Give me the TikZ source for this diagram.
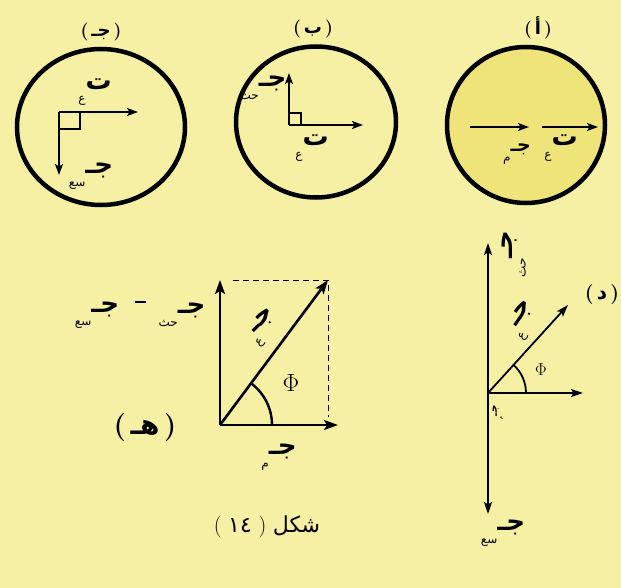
\documentclass[tikz,border=0pt]{standalone}
\usepackage{fontspec}
\usepackage{tikz}
\usetikzlibrary{arrows.meta, positioning, calc, shapes.geometric}
\TeXXeTstate=1
\newfontfamily\arabicfont[Script=Arabic]{DejaVu Sans}
\definecolor{paper}{HTML}{F6F0A5}
\definecolor{glow}{HTML}{EEE47A}
%% vector symbol: bold letter with a small subscript below left
\newcommand{\vlab}[2]{\beginR{\bfseries #1}\raisebox{-0.9ex}{\fontsize{12}{13}\selectfont\mdseries #2}\endR}

\begin{document}
\begin{tikzpicture}[x=1pt, y=-1pt,
    %% rings
    ring/.style = {draw=black, line width=4.5pt, ellipse, inner sep=0pt},
    %% arrows
    vec/.style    = {-{Stealth[length=11pt, width=8pt, inset=2.5pt]}, line width=1.6pt},
    bigvec/.style = {-{Stealth[length=14pt, width=10pt, inset=3pt]}, line width=2.6pt},
    midvec/.style = {-{Stealth[length=12pt, width=8pt, inset=2.5pt]}, line width=1.8pt},
    sq/.style     = {line width=1.3pt},
    %% texts
    lab/.style = {font=\arabicfont\fontsize{26}{28}\selectfont, inner sep=1pt},
    tag/.style = {font=\fontsize{18}{20}\selectfont\bfseries, inner sep=1pt},
  ]
  \fill[paper] (0,0) rectangle (621,588);
  \useasboundingbox (0,0) rectangle (621,588);

  %% ── ring (c) ────────────────────────────────────────────────
  \node[ring, minimum width=168pt, minimum height=156pt] (cC) at (101,127) {};
  \node[tag, above=5pt of cC.north] (tagC) {(\,{\arabicfont جـ}\,)};
  \coordinate (oC) at (59,112);
  \coordinate (xC) at (138,112);
  \coordinate (gC) at (59,175);
  \draw[vec] (oC) -- (xC); \draw[vec] (oC) -- (gC);
  \draw[sq] ($(oC)+(21,0)$) |- ($(oC)+(0,17)$);
  \node[lab] (lxC) at (95,92) {\vlab{ت}{ع}};
  \node[lab] (lgC) at (91,176) {\vlab{جـ}{سع}};

  %% ── ring (b) ────────────────────────────────────────────────
  \node[ring, minimum width=160pt, minimum height=151pt] (cB) at (316,122) {};
  \node[tag, above=5pt of cB.north, xshift=-3pt] (tagB) {(\,{\arabicfont ب}\,)};
  \coordinate (oB) at (289,125);
  \coordinate (yB) at (289,73);
  \coordinate (xB) at (363,125);
  \draw[vec] (oB) -- (yB); \draw[vec] (oB) -- (xB);
  \draw[sq] ($(oB)+(12,0)$) |- ($(oB)+(0,-12)$);
  \node[lab] (lyB) at (263,88) {\vlab{جـ}{حث}};
  \node[lab] (lxB) at (312,148) {\vlab{ت}{ع}};

  %% ── ring (a) ────────────────────────────────────────────────
  \node[ring, fill=glow, minimum width=158pt, minimum height=156pt] (cA) at (526,125) {};
  \node[tag, above=5pt of cA.north, xshift=12pt] (tagA) {(\,{\arabicfont أ}\,)};
  \coordinate (oA1) at (470,127);
  \coordinate (tA1) at (529,127);
  \coordinate (oA2) at (542,127);
  \coordinate (tA2) at (598,127);
  \draw[vec] (oA1) -- (tA1); \draw[vec] (oA2) -- (tA2);
  \node[lab, font=\arabicfont\fontsize{19}{21}\selectfont] (lA1) at (517,154) {\vlab{جـ}{م}};
  \node[lab] (lA2) at (561,148) {\vlab{ت}{ع}};

  %% ── diagram (e) ─────────────────────────────────────────────
  \coordinate (oE) at (220,425);
  \coordinate (yE) at (220,280);
  \coordinate (xE) at (338,425);
  \coordinate (rE) at (328,280);
  \coordinate (dE) at (328,417);
  \draw[dashed, line width=1pt, dash pattern=on 6pt off 4pt] ($(yE)+(13,0)$) -- (rE) -- (dE);
  \draw[bigvec] (oE) -- (yE);
  \draw[bigvec] (oE) -- (xE);
  \draw[bigvec] (oE) -- (rE);
  \draw[line width=2.4pt] ($(oE)+(52,0)$) arc[start angle=0, end angle=-53, radius=52];
  \node (phiE) at (291,383) {\fontsize{24}{26}\selectfont$\Phi$};
  \node[lab, rotate=45] (lrE) at (264,327) {\vlab{جـ}{ع}};
  \node[lab] (lxE) at (279,457) {\vlab{جـ}{م}};
  \node[lab] (lyE) at (182,315) {\vlab{جـ}{حث}};
  \node[inner sep=0pt] (minE) at (140,302) {\rule{11pt}{1.6pt}};
  \node[lab] (lsE) at (97,315) {\vlab{جـ}{سع}};
  \node[tag, font=\fontsize{28}{30}\selectfont\bfseries] (tagE) at (145,428) {(\,{\arabicfont هـ}\,)};

  %% ── diagram (d) ─────────────────────────────────────────────
  \coordinate (oD) at (488,393);
  \coordinate (yD) at (488,243);
  \coordinate (sD) at (488,514);
  \coordinate (xD) at (583,393);
  \coordinate (rD) at (568,305);
  \draw[midvec] (oD) -- (yD);
  \draw[midvec] (oD) -- (sD);
  \draw[midvec] (oD) -- (xD);
  \draw[midvec] (oD) -- (rD);
  \draw[line width=1.8pt] ($(oD)+(38,0)$) arc[start angle=0, end angle=-48, radius=38];
  \node (phiD) at (541,370) {\fontsize{18}{20}\selectfont$\Phi$};
  \node[tag, font=\fontsize{20}{22}\selectfont\bfseries] (tagD) at (602,295) {(\,{\arabicfont د}\,)};
  \node[lab, rotate=90] (lyD) at (514,254) {\vlab{جـ}{حث}};
  \node[lab, rotate=55] (lrD) at (524,320) {\vlab{جـ}{ع}};
  \node[lab, rotate=90, scale=0.4] (loD) at (498,412) {\vlab{جـ}{م}};
  \node[lab] (lsD) at (503,533) {\vlab{جـ}{سع}};

  %% ── caption ─────────────────────────────────────────────────
  \node (cap) at (267,527) {\fontsize{22}{26}\selectfont ( {\arabicfont ١٤} ) {\arabicfont\beginR شكل\endR}};
\end{tikzpicture}
\end{document}
